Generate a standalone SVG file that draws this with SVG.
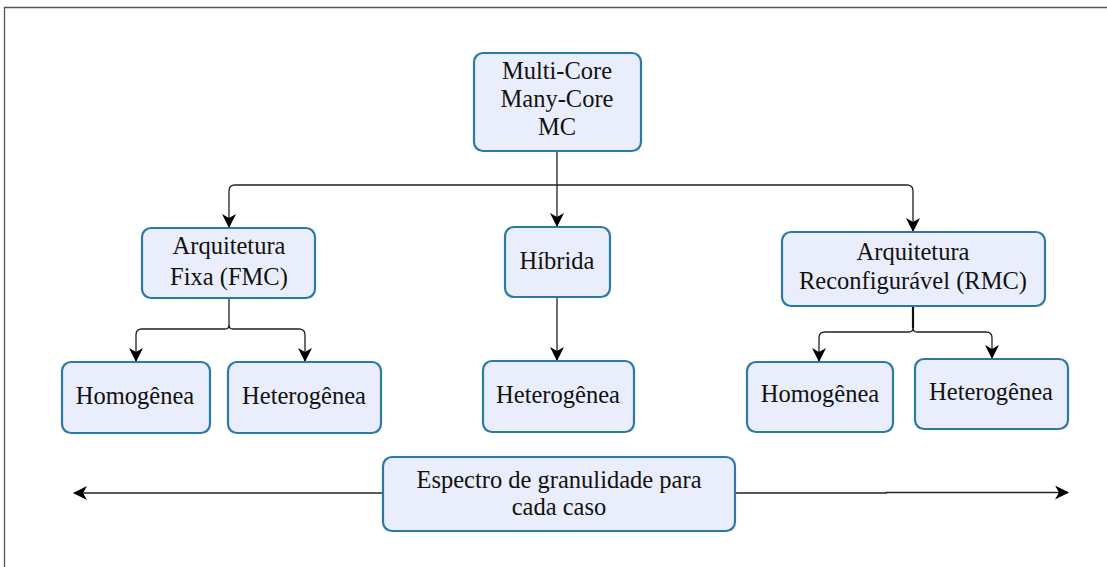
<svg xmlns="http://www.w3.org/2000/svg" width="1107" height="567" viewBox="0 0 1107 567">
<style>
.box{fill:#eaeefc;stroke:#2b7aa5;stroke-width:2.2}
.t{font-family:'Liberation Serif','DejaVu Serif',serif;font-size:24.5px;fill:#111;text-anchor:middle}
.c{fill:none;stroke:#222;stroke-width:1.3}
</style>
<defs>
<marker id="ah" viewBox="0 0 14 14" refX="13" refY="7" markerWidth="14" markerHeight="14" markerUnits="userSpaceOnUse" orient="auto">
<path d="M0,0 L14,7 L0,14 L4,7 Z" fill="#000"/>
</marker>
</defs>
<rect width="1107" height="567" fill="#fff"/>
<path d="M4.5,567 V7.5 H1107" fill="none" stroke="#555" stroke-width="1.3"/>
<g id="connectors">
<path class="c" d="M557,151 V185"/>
<path class="c" d="M557,185 H235 Q229,185 229,191 V227" marker-end="url(#ah)"/>
<path class="c" d="M557,185 V226" marker-end="url(#ah)"/>
<path class="c" d="M557,185 H907 Q913,185 913,191 V231" marker-end="url(#ah)"/>
<path class="c" d="M229,298 V325 Q229,329 225,329 H142 Q136,329 136,335 V361" marker-end="url(#ah)"/>
<path class="c" d="M229,325 Q229,329 233,329 H299 Q305,329 305,335 V361" marker-end="url(#ah)"/>
<path class="c" d="M557,297 V360" marker-end="url(#ah)"/>
<path d="M913,306 V328" stroke="#111" stroke-width="2.2" fill="none"/>
<path class="c" d="M913,328 Q913,332 909,332 H825 Q819,332 819,338 V361" marker-end="url(#ah)"/>
<path class="c" d="M913,328 Q913,332 917,332 H986 Q992,332 992,338 V358" marker-end="url(#ah)"/>
<path class="c" d="M383,493 H74" marker-end="url(#ah)"/>
<path class="c" d="M735,493 H886 V492.5 H1068" marker-end="url(#ah)"/>
</g>
<g id="mc"><rect class="box" x="474" y="53" width="167" height="98" rx="9"/>
<text class="t" x="557" y="79">Multi-Core</text><text class="t" x="557" y="107">Many-Core</text><text class="t" x="557" y="135">MC</text></g>
<g id="fmc"><rect class="box" x="142" y="228" width="173" height="70" rx="9"/>
<text class="t" x="229" y="254">Arquitetura</text><text class="t" x="229" y="285">Fixa (FMC)</text></g>
<g id="hibrida"><rect class="box" x="505" y="227" width="105" height="70" rx="9"/>
<text class="t" x="557" y="269">Híbrida</text></g>
<g id="rmc"><rect class="box" x="782" y="232" width="263" height="74" rx="9"/>
<text class="t" x="913" y="260">Arquitetura</text><text class="t" x="913" y="289">Reconfigurável (RMC)</text></g>
<g id="homo1"><rect class="box" x="62" y="362" width="148" height="71" rx="9"/>
<text class="t" x="135" y="404">Homogênea</text></g>
<g id="hetero1"><rect class="box" x="228" y="362" width="153" height="71" rx="9"/>
<text class="t" x="304" y="404">Heterogênea</text></g>
<g id="hetero2"><rect class="box" x="483" y="361" width="151" height="71" rx="9"/>
<text class="t" x="558" y="403">Heterogênea</text></g>
<g id="homo2"><rect class="box" x="747" y="362" width="146" height="70" rx="9"/>
<text class="t" x="820" y="402">Homogênea</text></g>
<g id="hetero3"><rect class="box" x="915" y="359" width="153" height="70" rx="9"/>
<text class="t" x="991" y="400">Heterogênea</text></g>
<g id="espectro"><rect class="box" x="383" y="457" width="352" height="74" rx="9"/>
<text class="t" x="559" y="488">Espectro de granulidade para</text><text class="t" x="559" y="515">cada caso</text></g>
</svg>
